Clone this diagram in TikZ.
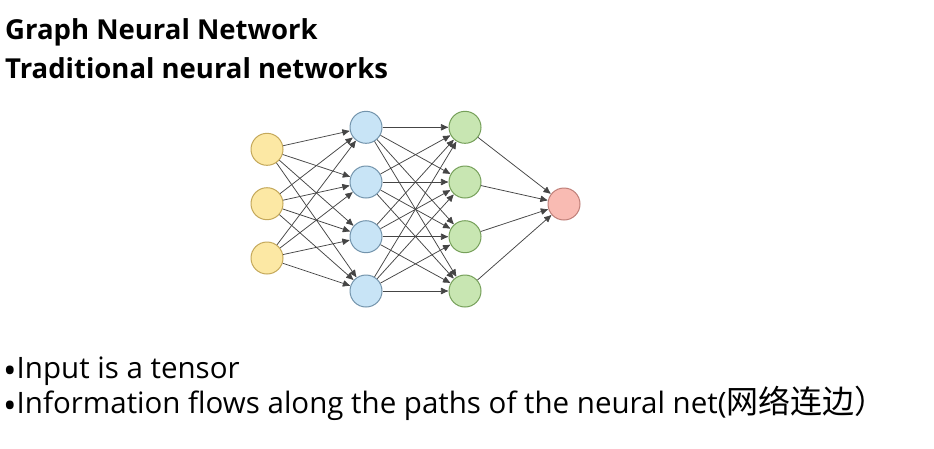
\documentclass[tikz,border=0pt]{standalone}
\usepackage{fontspec}
\setmainfont{Open Sans}
\newfontfamily\cjk{Noto Sans CJK SC}
\usetikzlibrary{arrows.meta}
\definecolor{yfill}{HTML}{FCE8A4}
\definecolor{ydraw}{HTML}{C4A85A}
\definecolor{bfill}{HTML}{C8E4F6}
\definecolor{bdraw}{HTML}{7394AC}
\definecolor{gfill}{HTML}{C8E6B2}
\definecolor{gdraw}{HTML}{76A05A}
\definecolor{rfill}{HTML}{F9BBB3}
\definecolor{rdraw}{HTML}{BF7F78}
\definecolor{edgec}{HTML}{454545}
\newcommand{\bigbul}{{\fontsize{36}{34}\selectfont\raisebox{-5pt}{•}}}
\tikzset{
  neuron/.style={circle,minimum size=32pt,inner sep=0pt,line width=1pt},
  ynode/.style={neuron,fill=yfill,draw=ydraw},
  bnode/.style={neuron,fill=bfill,draw=bdraw},
  gnode/.style={neuron,fill=gfill,draw=gdraw},
  rnode/.style={neuron,fill=rfill,draw=rdraw},
  conn/.style={draw=edgec,line width=0.75pt,-{Latex[length=8pt,width=7pt,round]},shorten >=0.5pt},
  txt/.style={anchor=base west,inner sep=0pt}
}
\begin{document}
\begin{tikzpicture}[x=1pt,y=-1pt]
\useasboundingbox (0,0) rectangle (934,448);
\fill[white] (0,0) rectangle (934,448);
\node[txt,font=\fontsize{27.5}{33}\selectfont\bfseries] (t1) at (5,39) {Graph Neural Network};
\node[txt,font=\fontsize{27.5}{33}\selectfont\bfseries] (t2) at (5,78) {Traditional neural networks};
\foreach \i/\y in {1/149.3,2/203.7,3/258} \node[ynode] (y\i) at (267,\y) {};
\foreach \i/\y in {1/127.3,2/182,3/236.7,4/291} \node[bnode] (b\i) at (366,\y) {};
\foreach \i/\y in {1/127.3,2/182,3/236.7,4/291} \node[gnode] (g\i) at (465,\y) {};
\node[rnode] (r) at (564,204) {};
\foreach \i in {1,2,3} \foreach \j in {1,2,3,4} \draw[conn] (y\i) -- (b\j);
\foreach \i in {1,2,3,4} \foreach \j in {1,2,3,4} \draw[conn] (b\i) -- (g\j);
\foreach \i in {1,2,3,4} \draw[conn] (g\i) -- (r);
\node[txt,font=\fontsize{29.5}{34}\selectfont] (l1) at (3,378) {\bigbul Input is a tensor};
\node[txt,font=\fontsize{29.5}{34}\selectfont] (l2) at (3,413) {\bigbul Information flows along the paths of the neural net({\cjk\fontsize{32}{34}\selectfont 网络连边）}};
\end{tikzpicture}
\end{document}
